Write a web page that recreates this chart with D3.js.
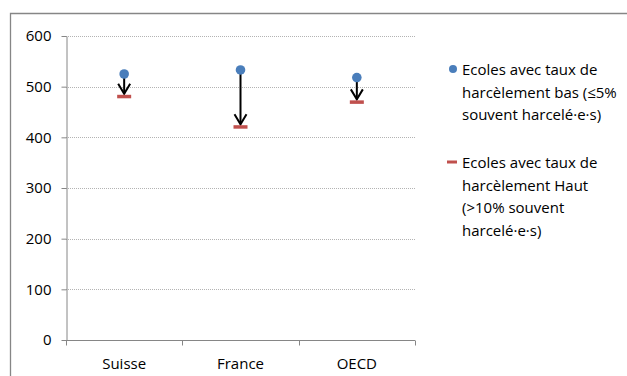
<!DOCTYPE html>
<html>
<head>
<meta charset="utf-8">
<script src="https://cdn.jsdelivr.net/npm/d3@7"></script>
<style>
  html, body { margin: 0; padding: 0; background: #fff; }
  svg { display: block; font-family: "Open Sans", "Liberation Sans", sans-serif; }
</style>
</head>
<body>
<svg id="chart" width="627" height="376"></svg>
<script>
// Scores moyens selon le niveau de harcèlement de l'école
const categories = ["Suisse", "France", "OECD"];
const lowBullying = [525, 533, 518];   // taux de harcèlement bas
const highBullying = [481, 421, 470];  // taux de harcèlement haut
const yTicks = [0, 100, 200, 300, 400, 500, 600];
const legendLow = ["Ecoles avec taux de", "harcèlement bas (≤5%", "souvent harcelé·e·s)"];
const legendHigh = ["Ecoles avec taux de", "harcèlement Haut", "(>10% souvent", "harcelé·e·s)"];

const svg = d3.select("#chart");
const axisColor = "#868686";
const blue = "#4a7ebb";
const red = "#c0504d";

// Outer frame
svg.append("path")
  .attr("d", "M10.5,376 V13.5 H627")
  .attr("fill", "none").attr("stroke", axisColor).attr("stroke-width", 1.3);

const x = d3.scaleBand().domain(categories).range([66, 415]);
const y = d3.scaleLinear().domain([0, 600]).range([340, 36]);

// Gridlines
svg.append("g").selectAll("line")
  .data(yTicks.filter(d => d > 0))
  .join("line")
  .attr("x1", 66).attr("x2", 415)
  .attr("y1", d => Math.round(y(d)) + 0.5).attr("y2", d => Math.round(y(d)) + 0.5)
  .attr("stroke", "#b3b3b3").attr("stroke-width", 1).attr("stroke-dasharray", "1,1");

// Y axis
const yAxis = svg.append("g")
  .attr("transform", "translate(66.5,0)")
  .call(d3.axisLeft(y).tickValues(yTicks).tickSize(5).tickPadding(10).tickSizeOuter(0));
yAxis.select(".domain").attr("stroke", axisColor);
yAxis.selectAll(".tick line").attr("stroke", axisColor);
yAxis.selectAll(".tick text").attr("fill", "#000").style("font-size", "15px")
  .style("font-family", "'Open Sans', sans-serif");

// X axis with ticks at category boundaries
const xAxisG = svg.append("g").attr("transform", "translate(0,340.5)");
xAxisG.append("line").attr("x1", 66).attr("x2", 415).attr("stroke", axisColor);
const bounds = categories.map(c => x(c)).concat([x.range()[1]]);
xAxisG.selectAll("line.tk").data(bounds).join("line").attr("class", "tk")
  .attr("x1", d => Math.round(d) + 0.5).attr("x2", d => Math.round(d) + 0.5)
  .attr("y1", 0).attr("y2", 5).attr("stroke", axisColor);
xAxisG.selectAll("text").data(categories).join("text")
  .attr("x", d => x(d) + x.bandwidth() / 2).attr("y", 28)
  .attr("text-anchor", "middle").style("font-size", "15px").text(d => d);

// Arrows from low-bullying score down to high-bullying score
const arrows = svg.append("g").attr("stroke", "#000").attr("stroke-width", 2).attr("fill", "none");
categories.forEach((c, i) => {
  const cx = x(c) + x.bandwidth() / 2;
  const y0 = y(lowBullying[i]);
  const y1 = y(highBullying[i]) - 2.5;
  arrows.append("line").attr("x1", cx).attr("x2", cx).attr("y1", y0).attr("y2", y1);
  arrows.append("path").attr("d", `M${cx - 6},${y1 - 10} L${cx},${y1} L${cx + 6},${y1 - 10}`);
});

// High-bullying markers (red dashes)
svg.append("g").selectAll("rect").data(categories).join("rect")
  .attr("x", d => x(d) + x.bandwidth() / 2 - 7)
  .attr("y", (d, i) => y(highBullying[i]) - 1.5)
  .attr("width", 14).attr("height", 3.5).attr("fill", red);

// Low-bullying markers (blue dots)
svg.append("g").selectAll("circle").data(categories).join("circle")
  .attr("cx", d => x(d) + x.bandwidth() / 2)
  .attr("cy", (d, i) => y(lowBullying[i]))
  .attr("r", 4.8).attr("fill", blue);

// Legend
const legend = svg.append("g").style("font-size", "15px");
legend.append("circle").attr("cx", 453).attr("cy", 69).attr("r", 4).attr("fill", blue);
legend.append("text").selectAll("tspan").data(legendLow).join("tspan")
  .attr("x", 462).attr("y", (d, i) => 75 + i * 22.5).text(d => d);
legend.append("rect").attr("x", 447).attr("y", 160.5).attr("width", 10).attr("height", 3).attr("fill", red);
legend.append("text").selectAll("tspan").data(legendHigh).join("tspan")
  .attr("x", 462).attr("y", (d, i) => 168 + i * 22.5).text(d => d);
</script>
</body>
</html>
